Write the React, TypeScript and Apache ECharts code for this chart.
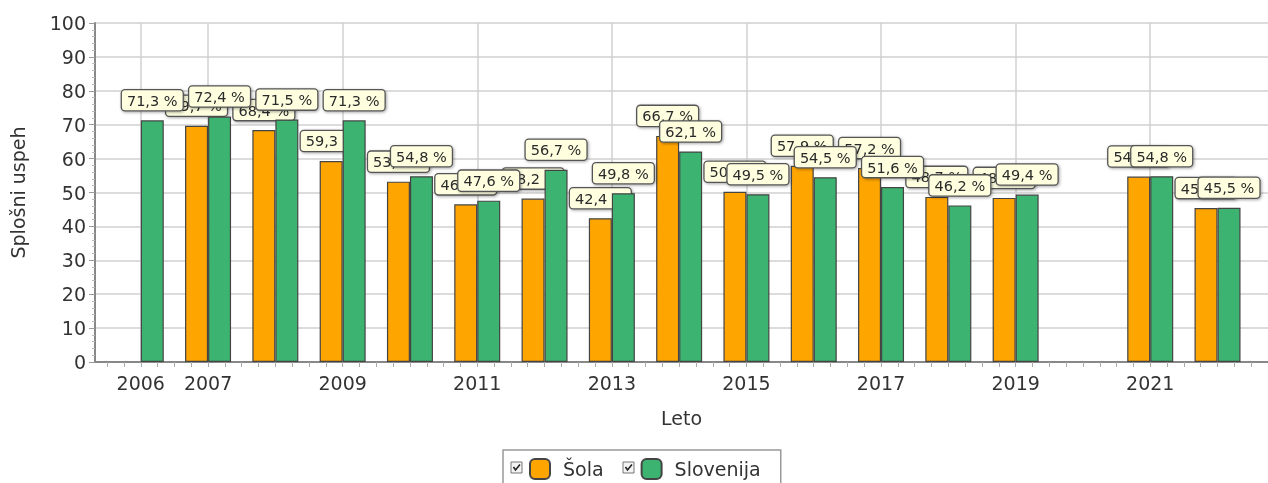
import React, { useEffect, useRef } from "react";
import * as echarts from "echarts";

const years = [2006, 2007, 2008, 2009, 2010, 2011, 2012, 2013, 2014, 2015, 2016, 2017, 2018, 2019, 2020, 2021, 2022];
const sola = [null, 69.7, 68.4, 59.3, 53.2, 46.5, 48.2, 42.4, 66.7, 50.2, 57.9, 57.2, 48.7, 48.4, null, 54.7, 45.4];
const slovenija = [71.3, 72.4, 71.5, 71.3, 54.8, 47.6, 56.7, 49.8, 62.1, 49.5, 54.5, 51.6, 46.2, 49.4, null, 54.8, 45.5];
const labelYears = [2006, 2007, 2009, 2011, 2013, 2015, 2017, 2019, 2021];
const gridYears = [2006, 2007, 2009, 2011, 2013, 2015, 2017, 2019, 2021];

const FONT = "DejaVu Sans";
const X_MIN = 2005.32;
const X_MAX = 2022.75;

const quarterTicks: number[] = [];
for (let q = Math.ceil(X_MIN * 4); q <= Math.floor(X_MAX * 4); q++) quarterTicks.push(q / 4);

const fmt = (v: number) => v.toFixed(1).replace(".", ",") + " %";

export default function App() {
  const ref = useRef<HTMLDivElement>(null);
  useEffect(() => {
    if (!ref.current) return;
    const chart = echarts.init(ref.current, null, { renderer: "svg" });
    const labelStyle = {
      show: true,
      position: "top",
      distance: 10,
      formatter: (p: any) => fmt(p.value[1]),
      fontFamily: FONT,
      fontSize: 14.5,
      color: "#2a2a2a",
      backgroundColor: "#FFFFE0",
      borderColor: "#555",
      borderWidth: 1.3,
      borderRadius: 3,
      padding: [3, 5, 2, 5],
      shadowColor: "rgba(0,0,0,0.35)",
      shadowBlur: 3,
      shadowOffsetX: 1,
      shadowOffsetY: 1,
    };
    const mk = (arr: (number | null)[]) =>
      years.map((y, i) => (arr[i] == null ? null : [y, arr[i]])).filter((d) => d != null);
    const checkbox = (x: number, y: number) => ({
      type: "group",
      children: [
        { type: "rect", shape: { x, y, width: 11, height: 11 }, style: { fill: "#f4f4f4", stroke: "#777", lineWidth: 1 }, z: 100 },
        { type: "polyline", shape: { points: [[x + 2.5, y + 5], [x + 4.5, y + 8], [x + 9, y + 2.5]] }, style: { stroke: "#222", lineWidth: 1.6, fill: null }, z: 101 },
      ],
    });
    chart.setOption({
      animation: false,
      textStyle: { fontFamily: FONT },
      grid: { left: 95, top: 23, right: 1268 - 95 - (X_MAX - X_MIN) * 68.06, bottom: 121, containLabel: false },
      legend: {
        data: ["Šola", "Slovenija"],
        left: 503,
        top: 450,
        icon: "roundRect",
        itemWidth: 20,
        itemHeight: 20,
        itemGap: 37,
        padding: [8, 20, 20, 26],
        borderColor: "#999",
        borderWidth: 1.5,
        backgroundColor: "#fff",
        textStyle: { fontFamily: FONT, fontSize: 19, color: "#333", padding: [0, 0, 0, 8] },
      },
      graphic: [checkbox(511, 462), checkbox(623, 462)],
      xAxis: [
        {
          type: "value",
          min: X_MIN,
          max: X_MAX,
          axisLine: { show: true, lineStyle: { color: "#888", width: 2 } },
          axisTick: { show: true, customValues: quarterTicks, length: 5, lineStyle: { color: "#aaa" } },
          axisLabel: { customValues: labelYears, formatter: (v: number) => String(Math.round(v)), fontSize: 19, color: "#333", margin: 11, fontFamily: FONT },
          splitLine: { show: false },
          name: "Leto",
          nameLocation: "middle",
          nameGap: 46,
          nameTextStyle: { fontSize: 19, color: "#333", fontFamily: FONT },
        },
        {
          type: "value",
          min: X_MIN,
          max: X_MAX,
          position: "bottom",
          axisLine: { show: false },
          axisTick: { show: false, customValues: gridYears },
          axisLabel: { show: false, customValues: gridYears },
          splitLine: { show: true, lineStyle: { color: "#d0d0d0", width: 1.5 } },
        },
      ],
      yAxis: {
        type: "value",
        min: 0,
        max: 100,
        interval: 10,
        axisLine: { show: true, lineStyle: { color: "#888", width: 2 } },
        axisTick: { show: true, length: 6, lineStyle: { color: "#999" } },
        minorTick: { show: true, splitNumber: 5, length: 3, lineStyle: { color: "#bbb" } },
        axisLabel: { fontSize: 19, color: "#333", margin: 9, fontFamily: FONT },
        splitLine: { show: true, lineStyle: { color: "#d0d0d0", width: 1.5 } },
        name: "Splošni uspeh",
        nameLocation: "middle",
        nameGap: 68,
        nameTextStyle: { fontSize: 19, color: "#333", fontFamily: FONT },
      },
      series: [
        {
          name: "Šola",
          type: "bar",
          xAxisIndex: 0,
          data: mk(sola),
          barWidth: 23,
          barGap: "0%",
          itemStyle: { color: "#FFA500", borderColor: "#444", borderWidth: 1.2 },
          label: labelStyle,
        },
        {
          name: "Slovenija",
          type: "bar",
          xAxisIndex: 0,
          data: mk(slovenija),
          barWidth: 23,
          barGap: "0%",
          z: 3,
          itemStyle: { color: "#3CB371", borderColor: "#444", borderWidth: 1.2 },
          label: labelStyle,
        },
      ],
    });
    return () => chart.dispose();
  }, []);
  return <div ref={ref} style={{ position: "fixed", left: 0, top: 0, width: 1268, height: 483 }} />;
}
